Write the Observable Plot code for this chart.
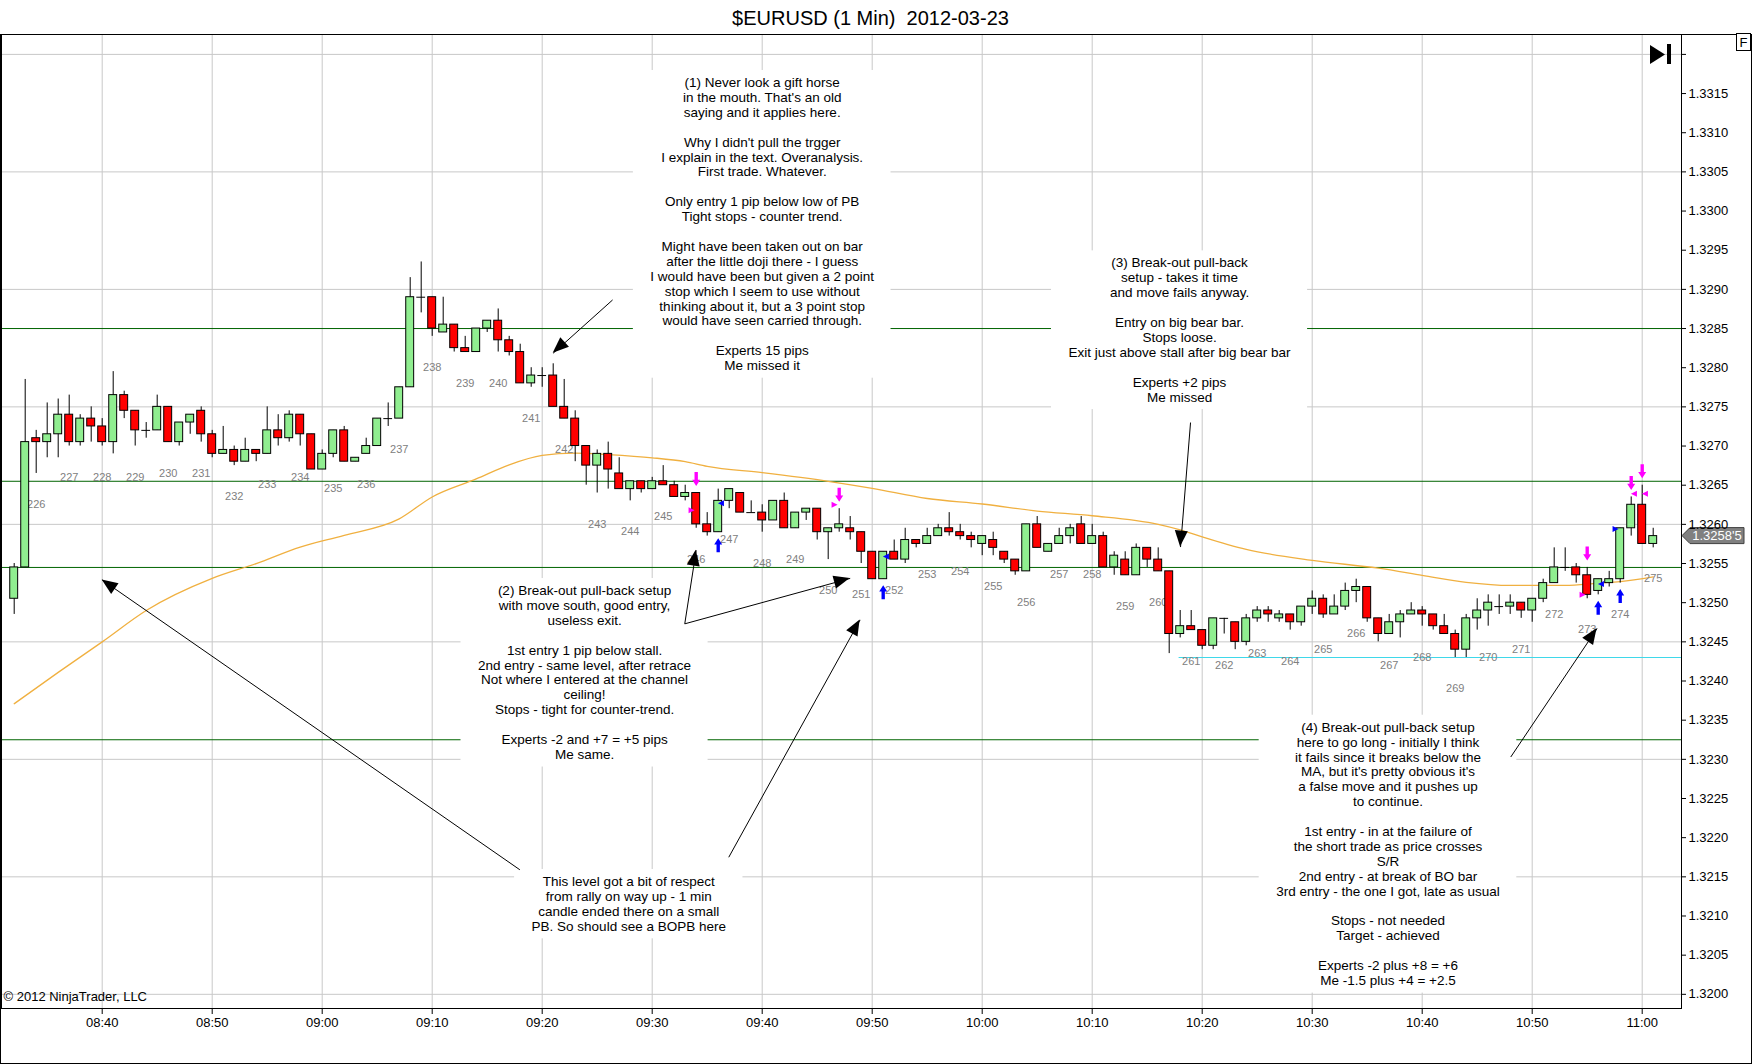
<!DOCTYPE html>
<html>
<head>
<meta charset="utf-8">
<script src="https://cdn.jsdelivr.net/npm/d3@7"></script>
<script src="https://cdn.jsdelivr.net/npm/@observablehq/plot@0.6"></script>
<style>
  html, body { margin: 0; padding: 0; background: #fff; }
  body { width: 1752px; height: 1064px; overflow: hidden; font-family: Arial, "Liberation Sans", sans-serif; }
  #wrap { position: relative; width: 1752px; height: 1064px; }
  #title { position: absolute; left: 0; top: 0; width: 1741px; height: 33px; line-height: 34px; padding-top: 1px; text-align: center; font-size: 20px; color: #000; white-space: pre; }
  #chart { position: absolute; left: 0; top: 33px; }
  #frame { position: absolute; left: 0; top: 34px; width: 1752px; height: 1030px; box-sizing: border-box; border: 1px solid #000; pointer-events: none; }
  #chrome { position: absolute; left: 0; top: 0; pointer-events: none; }
</style>
</head>
<body>
<div id="wrap">
  <div id="title">$EURUSD (1 Min)  2012-03-23</div>
  <div id="chart"></div>
  <div id="frame"></div>
  <svg id="chrome" width="1752" height="1064">
    <polygon points="1650,45 1665,54.5 1650,64" fill="#000"></polygon>
    <rect x="1667" y="44" width="4" height="20" fill="#000"></rect>
    <rect x="1736.5" y="33.5" width="14" height="17" fill="#fff" stroke="#000"></rect>
    <text x="1743.5" y="47" text-anchor="middle" font-size="13" font-family="Arial, 'Liberation Sans', sans-serif">F</text>
  </svg>
</div>
<script>
// ---------- bar data (1-minute bars, 08:32 .. 11:01) ----------
const open = [1.32505,1.32545,1.32710,1.32705,1.32715,1.32740,1.32705,1.32735,1.32725,1.32705,
1.32765,1.32745,1.32720,1.32720,1.32750,1.32705,1.32730,1.32745,1.32715,1.32690,
1.32695,1.32680,1.32695,1.32690,1.32720,1.32710,1.32740,1.32715,1.32670,1.32690,
1.32720,1.32680,1.32690,1.32700,1.32735,1.32735,1.32775,1.32890,1.32890,1.32845,
1.32855,1.32825,1.32820,1.32850,1.32860,1.32835,1.32820,1.32780,1.32790,1.32790,
1.32750,1.32735,1.32700,1.32675,1.32690,1.32665,1.32645,1.32655,1.32645,1.32655,
1.32650,1.32635,1.32640,1.32600,1.32590,1.32630,1.32640,1.32615,1.32615,1.32605,
1.32630,1.32595,1.32615,1.32620,1.32590,1.32595,1.32595,1.32590,1.32565,1.32530,
1.32565,1.32555,1.32580,1.32575,1.32585,1.32595,1.32590,1.32585,1.32575,1.32580,
1.32565,1.32555,1.32540,1.32600,1.32565,1.32575,1.32585,1.32600,1.32575,1.32585,
1.32545,1.32555,1.32535,1.32570,1.32555,1.32540,1.32460,1.32470,1.32465,1.32445,
1.32480,1.32475,1.32450,1.32480,1.32490,1.32480,1.32485,1.32475,1.32495,1.32505,
1.32485,1.32495,1.32515,1.32520,1.32480,1.32460,1.32475,1.32485,1.32490,1.32485,
1.32470,1.32460,1.32440,1.32480,1.32490,1.32495,1.32495,1.32500,1.32490,1.32505,
1.32525,1.32545,1.32545,1.32535,1.32515,1.32525,1.32530,1.32595,1.32625,1.32575];
const high = [1.32550,1.32785,1.32720,1.32755,1.32760,1.32765,1.32740,1.32750,1.32735,1.32795,
1.32770,1.32745,1.32730,1.32765,1.32750,1.32730,1.32740,1.32750,1.32720,1.32725,
1.32700,1.32710,1.32695,1.32750,1.32740,1.32745,1.32740,1.32715,1.32695,1.32720,
1.32725,1.32685,1.32710,1.32735,1.32755,1.32775,1.32915,1.32935,1.32890,1.32890,
1.32855,1.32840,1.32850,1.32860,1.32875,1.32840,1.32830,1.32800,1.32800,1.32805,
1.32785,1.32745,1.32700,1.32695,1.32705,1.32685,1.32655,1.32655,1.32660,1.32675,
1.32655,1.32650,1.32640,1.32615,1.32645,1.32645,1.32640,1.32630,1.32625,1.32630,
1.32640,1.32615,1.32620,1.32620,1.32595,1.32620,1.32610,1.32590,1.32565,1.32565,
1.32580,1.32595,1.32580,1.32595,1.32600,1.32615,1.32600,1.32590,1.32585,1.32590,
1.32565,1.32555,1.32600,1.32610,1.32575,1.32595,1.32600,1.32610,1.32600,1.32590,
1.32565,1.32565,1.32575,1.32570,1.32570,1.32540,1.32490,1.32490,1.32465,1.32480,
1.32480,1.32475,1.32485,1.32495,1.32495,1.32490,1.32485,1.32495,1.32515,1.32510,
1.32510,1.32525,1.32530,1.32520,1.32480,1.32485,1.32490,1.32500,1.32495,1.32485,
1.32485,1.32465,1.32485,1.32505,1.32510,1.32510,1.32510,1.32500,1.32505,1.32530,
1.32570,1.32570,1.32550,1.32545,1.32530,1.32540,1.32595,1.32635,1.32650,1.32595];
const low = [1.32485,1.32545,1.32665,1.32685,1.32685,1.32700,1.32700,1.32705,1.32700,1.32690,
1.32735,1.32700,1.32710,1.32720,1.32705,1.32700,1.32715,1.32705,1.32685,1.32690,
1.32675,1.32680,1.32680,1.32690,1.32700,1.32705,1.32700,1.32670,1.32670,1.32685,
1.32680,1.32680,1.32690,1.32700,1.32725,1.32735,1.32775,1.32870,1.32840,1.32845,
1.32820,1.32820,1.32820,1.32845,1.32820,1.32815,1.32780,1.32775,1.32775,1.32750,
1.32735,1.32680,1.32650,1.32640,1.32645,1.32645,1.32630,1.32640,1.32645,1.32650,
1.32635,1.32630,1.32595,1.32585,1.32590,1.32620,1.32615,1.32615,1.32590,1.32605,
1.32595,1.32595,1.32605,1.32580,1.32555,1.32590,1.32580,1.32550,1.32530,1.32530,
1.32555,1.32550,1.32570,1.32575,1.32585,1.32585,1.32580,1.32570,1.32560,1.32560,
1.32550,1.32535,1.32540,1.32570,1.32565,1.32575,1.32575,1.32575,1.32575,1.32545,
1.32535,1.32535,1.32535,1.32545,1.32540,1.32435,1.32455,1.32465,1.32440,1.32440,
1.32460,1.32440,1.32445,1.32475,1.32475,1.32475,1.32465,1.32470,1.32485,1.32480,
1.32485,1.32490,1.32500,1.32475,1.32450,1.32460,1.32455,1.32485,1.32470,1.32465,
1.32460,1.32430,1.32430,1.32465,1.32470,1.32485,1.32485,1.32480,1.32475,1.32500,
1.32525,1.32540,1.32525,1.32505,1.32510,1.32520,1.32525,1.32585,1.32575,1.32570];
const close = [1.32545,1.32705,1.32705,1.32715,1.32740,1.32705,1.32735,1.32725,1.32705,1.32765,
1.32745,1.32720,1.32720,1.32750,1.32705,1.32730,1.32740,1.32715,1.32690,1.32695,
1.32680,1.32695,1.32690,1.32720,1.32710,1.32740,1.32715,1.32670,1.32690,1.32720,
1.32680,1.32685,1.32700,1.32735,1.32735,1.32775,1.32890,1.32890,1.32850,1.32855,
1.32825,1.32820,1.32850,1.32860,1.32835,1.32820,1.32780,1.32790,1.32790,1.32750,
1.32735,1.32700,1.32675,1.32690,1.32670,1.32645,1.32655,1.32645,1.32655,1.32650,
1.32635,1.32640,1.32600,1.32590,1.32630,1.32645,1.32615,1.32615,1.32605,1.32630,
1.32595,1.32615,1.32620,1.32590,1.32595,1.32600,1.32590,1.32565,1.32530,1.32565,
1.32555,1.32580,1.32575,1.32585,1.32595,1.32590,1.32585,1.32580,1.32585,1.32570,
1.32555,1.32540,1.32600,1.32570,1.32575,1.32585,1.32595,1.32575,1.32585,1.32545,
1.32560,1.32535,1.32570,1.32555,1.32540,1.32460,1.32470,1.32465,1.32445,1.32480,
1.32480,1.32450,1.32480,1.32490,1.32485,1.32485,1.32475,1.32495,1.32505,1.32485,
1.32495,1.32515,1.32520,1.32480,1.32460,1.32475,1.32485,1.32490,1.32485,1.32470,
1.32460,1.32440,1.32480,1.32490,1.32500,1.32495,1.32500,1.32490,1.32505,1.32525,
1.32545,1.32545,1.32535,1.32510,1.32530,1.32530,1.32595,1.32625,1.32575,1.32585];

// ---------- axes ----------
const tickBars = [8,18,28,38,48,58,68,78,88,98,108,118,128,138,148];
const tickLabels = ["08:40","08:50","09:00","09:10","09:20","09:30","09:40","09:50","10:00","10:10","10:20","10:30","10:40","10:50","11:00"];
const priceTicks = [1.3200,1.3205,1.3210,1.3215,1.3220,1.3225,1.3230,1.3235,1.3240,1.3245,1.3250,1.3255,1.3260,1.3265,1.3270,1.3275,1.3280,1.3285,1.3290,1.3295,1.3300,1.3305,1.3310,1.3315,1.3320];
const gridPrices = [1.3200,1.3215,1.3230,1.3245,1.3260,1.3275,1.3290,1.3305,1.3320];

// ---------- levels ----------
const greenLevels = [1.32850,1.32655,1.32545,1.32325];
const cyanLevel = 1.32430;
const cyanStartBar = 105.9;

// ---------- moving average ----------
const maBars = [0,4,8,12,18,22,26,30,35,38,42,45,48,51,54,58,61,63,68,74,78,83,88,93,98,104,106,108,112,118,124,128,132,136,141,144,146,149];
const maValues = [1.32371,1.32411,1.32450,1.32490,1.32531,1.32550,1.32571,1.32586,1.32607,1.32635,1.32658,1.32676,1.32688,1.32691,1.32689,1.32685,1.32680,1.32674,1.32666,1.32655,1.32646,1.32633,1.32626,1.32617,1.32611,1.32600,1.32593,1.32584,1.32568,1.32554,1.32544,1.32535,1.32526,1.32522,1.32522,1.32525,1.32527,1.32533];

// ---------- bar count labels ----------
const countBars = [2,5,8,11,14,17,20,23,26,29,32,35,38,41,44,47,50,53,56,59,62,65,68,71,74,77,80,83,86,89,92,95,98,101,104,107,110,113,116,119,122,125,128,131,134,137,140,143,146,149];
const countLabels = [226,227,228,229,230,231,232,233,234,235,236,237,238,239,240,241,242,243,244,245,246,247,248,249,250,251,252,253,254,255,256,257,258,259,260,261,262,263,264,265,266,267,268,269,270,271,272,273,274,275];

// ---------- trade signals ----------
const sellBars = [62,75,143,147,148];
const buyBars = [64,79,144,146];
const fillBars = [62,64,75,79,143,144,146,147,148];
const fillPrices = [1.32618,1.32627,1.32625,1.32559,1.32510,1.32524,1.32594,1.32639,1.32639];
const fillSide = ["sell","buy","sell","buy","sell","buy","buy","sell","sell"];
const fillDir = ["right","left","right","left","right","left","right","left","left"];

// ---------- annotation arrows (bar index, price) ----------
const arrows = [
  {x1:54.4,  y1:1.328865, x2:49.0,   y2:1.328185},
  {x1:60.96, y1:1.324730, x2:62.0,   y2:1.325670},
  {x1:60.96, y1:1.324730, x2:76.0,   y2:1.325310},
  {x1:64.96, y1:1.321750, x2:76.9,   y2:1.324780},
  {x1:45.97, y1:1.321590, x2:8.0,    y2:1.325290},
  {x1:106.94,y1:1.327300, x2:106.03, y2:1.325710},
  {x1:136.05,y1:1.323030, x2:143.9,  y2:1.324670}
];

// ---------- annotation texts ----------
const notes = [
  {bar:68.0, price:1.331654, text:"(1) Never look a gift horse\nin the mouth. That's an old\nsaying and it applies here.\n\nWhy I didn't pull the trgger\nI explain in the text. Overanalysis.\nFirst trade. Whatever.\n\nOnly entry 1 pip below low of PB\nTight stops - counter trend.\n\nMight have been taken out on bar\nafter the little doji there - I guess\nI would have been but given a 2 point\nstop which I seem to use without\nthinking about it, but a 3 point stop\nwould have seen carried through.\n\nExperts 15 pips\nMe missed it"},
  {bar:105.94, price:1.329351, text:"(3) Break-out pull-back\nsetup - takes it time\nand move fails anyway.\n\nEntry on big bear bar.\nStops loose.\nExit just above stall after big bear bar\n\nExperts +2 pips\nMe missed"},
  {bar:51.85, price:1.325168, text:"(2) Break-out pull-back setup\nwith move south, good entry,\nuseless exit.\n\n1st entry 1 pip below stall.\n2nd entry - same level, after retrace\nNot where I entered at the channel\nceiling!\nStops - tight for counter-trend.\n\nExperts -2 and +7 = +5 pips\nMe same."},
  {bar:55.87, price:1.321453, text:"This level got a bit of respect\nfrom rally on way up - 1 min\ncandle ended there on a small\nPB. So should see a BOPB here"},
  {bar:124.89, price:1.323423, text:"(4) Break-out pull-back setup\nhere to go long - initially I think\nit fails since it breaks below the\nMA, but it's pretty obvious it's\na false move and it pushes up\nto continue.\n\n1st entry - in at the failure of\nthe short trade as price crosses\nS/R\n2nd entry - at break of BO bar\n3rd entry - the one I got, late as usual\n\nStops - not needed\nTarget - achieved\n\nExperts -2 plus +8 = +6\nMe -1.5 plus +4 = +2.5"}
];

// ---------- build tables ----------
const bars = open.map((o, i) => ({i, open: o, high: high[i], low: low[i], close: close[i]}));
const bodies = bars.filter(d => Math.abs(d.close - d.open) > 1e-7);
const dojis = bars.filter(d => Math.abs(d.close - d.open) <= 1e-7);
const ma = maBars.map((b, k) => ({bar: b, value: maValues[k]}));
const counts = countBars.map((b, k) => ({bar: b, low: low[b], label: String(countLabels[k])}));
const sells = sellBars.map(b => bars[b]);
const buys = buyBars.map(b => bars[b]);
const fills = fillBars.map((b, k) => ({bar: b, price: fillPrices[k], color: fillSide[k] === "sell" ? "#ff00ff" : "#0000ff", dir: fillDir[k]}));

const FONT = 'Arial, "Liberation Sans", sans-serif';
const NOTE_SIZE = 13.5, LH = 14.9;
const mctx = document.createElement("canvas").getContext("2d");
mctx.font = NOTE_SIZE + "px " + FONT;

// white backgrounds behind the note texts
const noteBoxes = (index, scales) => {
  const g = d3.create("svg:g");
  for (const n of notes) {
    const lines = n.text.split("\n");
    const w = d3.max(lines, l => mctx.measureText(l).width);
    const cx = scales.x(n.bar), cy = scales.y(n.price);
    g.append("rect")
      .attr("x", cx - w / 2 - 17).attr("y", cy - 11)
      .attr("width", w + 34).attr("height", (lines.length - 1) * LH + 24.6)
      .attr("fill", "#fff");
  }
  return g.node();
};

// filled arrow heads at the tip of each annotation arrow
const arrowHeads = (index, scales) => {
  const g = d3.create("svg:g");
  for (const a of arrows) {
    const x1 = scales.x(a.x1), y1 = scales.y(a.y1), x2 = scales.x(a.x2), y2 = scales.y(a.y2);
    const ang = Math.atan2(y2 - y1, x2 - x1);
    const L = 16, W = 6.5;
    const bx = x2 - L * Math.cos(ang), by = y2 - L * Math.sin(ang);
    g.append("path")
      .attr("d", `M${x2},${y2}L${bx - W * Math.sin(ang)},${by + W * Math.cos(ang)}L${bx + W * Math.sin(ang)},${by - W * Math.cos(ang)}Z`)
      .attr("fill", "#000");
  }
  return g.node();
};

// last-price tag on the price axis
const priceTag = (index, scales, values, dimensions) => {
  const last = close[close.length - 1];
  const y = scales.y(last);
  const x0 = dimensions.width - dimensions.marginRight;
  const s = last.toFixed(5);
  const label = s.slice(0, 6) + "'" + s.slice(6);
  const g = d3.create("svg:g");
  g.append("path")
    .attr("d", `M${x0 + 1},${y}L${x0 + 9},${y - 8}L${x0 + 63},${y - 8}L${x0 + 63},${y + 8}L${x0 + 9},${y + 8}Z`)
    .attr("fill", "#808080").attr("stroke", "#404040");
  g.append("text").attr("x", x0 + 36).attr("y", y).attr("dy", "0.35em")
    .attr("text-anchor", "middle").attr("font-size", 13).attr("fill", "#fff").text(label);
  return g.node();
};

const thickArrow = {
  draw(ctx, l, r) {
    const sw = r * 0.42, hl = l * 0.45;
    ctx.moveTo(-sw, 0);
    ctx.lineTo(-sw, -l + hl);
    ctx.lineTo(-r, -l + hl);
    ctx.lineTo(0, -l);
    ctx.lineTo(r, -l + hl);
    ctx.lineTo(sw, -l + hl);
    ctx.lineTo(sw, 0);
    ctx.closePath();
  }
};
const triangle = {
  draw(ctx, l, r) {
    ctx.moveTo(0, -l);
    ctx.lineTo(-r, 0);
    ctx.lineTo(r, 0);
    ctx.closePath();
  }
};

const X0 = -1.1545, X1 = 151.5727;

const chart = Plot.plot({
  width: 1752,
  height: 1031,
  marginTop: 1,
  marginRight: 71,
  marginBottom: 56,
  marginLeft: 1,
  x: {type: "linear", domain: [X0, X1]},
  y: {type: "linear", domain: [1.319819, 1.332254]},
  style: {fontFamily: FONT, fontSize: "13px", color: "#000", background: "transparent", overflow: "visible", maxWidth: "none"},
  marks: [
    Plot.gridY(gridPrices, {stroke: "#c8c8c8", strokeOpacity: 1}),
    Plot.gridX(tickBars, {stroke: "#c8c8c8", strokeOpacity: 1}),
    Plot.ruleY(greenLevels, {stroke: "#006400", strokeWidth: 1}),
    Plot.ruleY([cyanLevel], {x1: cyanStartBar, x2: X1, stroke: "#3fd8ea", strokeWidth: 1.2}),
    noteBoxes,
    Plot.text(notes, {x: "bar", y: "price", text: "text", lineAnchor: "top", dy: -5, fontSize: NOTE_SIZE, lineHeight: LH / NOTE_SIZE, fill: "#000", textAnchor: "middle"}),
    Plot.line(ma, {x: "bar", y: "value", stroke: "#f0b040", strokeWidth: 1.3, curve: "monotone-x"}),
    Plot.text(counts, {x: "bar", y: "low", text: "label", dy: 31, fontSize: 11, fill: "#808080"}),
    Plot.ruleX(bars, {x: "i", y1: "low", y2: "high", stroke: "#000", strokeWidth: 1}),
    Plot.rect(bodies, {x1: d => d.i - 0.36, x2: d => d.i + 0.36, y1: "open", y2: "close", fill: d => d.close > d.open ? "#90ee90" : "#ff0000", stroke: "#000", strokeWidth: 1}),
    Plot.ruleY(dojis, {y: "open", x1: d => d.i - 0.4, x2: d => d.i + 0.4, stroke: "#000", strokeWidth: 1}),
    Plot.vector(sells, {x: "i", y: "high", length: 14, rotate: 180, anchor: "end", shape: thickArrow, r: 4, fill: "#ff00ff", stroke: "none", dy: -7}),
    Plot.vector(buys, {x: "i", y: "low", length: 14, rotate: 0, anchor: "end", shape: thickArrow, r: 4, fill: "#0000ff", stroke: "none", dy: 6}),
    Plot.vector(fills, {x: d => d.bar + (d.dir === "right" ? -0.42 : 0.25), y: "price", length: 6, rotate: d => d.dir === "right" ? 90 : -90, anchor: "middle", shape: triangle, r: 3, fill: "color", stroke: "none"}),
    Plot.link(arrows, {x1: "x1", y1: "y1", x2: "x2", y2: "y2", stroke: "#000", strokeWidth: 1}),
    arrowHeads,
    priceTag,
    Plot.text(["© 2012 NinjaTrader, LLC"], {text: d => d, frameAnchor: "bottom-left", textAnchor: "start", dx: 2, dy: -8, fontSize: 13, fill: "#000"}),
    Plot.axisX(tickBars, {tickFormat: d => tickLabels[tickBars.indexOf(d)], tickSize: 6, tickPadding: 3, fontSize: 13, label: null}),
    Plot.axisY(priceTicks, {anchor: "right", tickFormat: d => d > 1.3318 ? "" : d.toFixed(4), tickSize: 4, tickPadding: 3, fontSize: 13, label: null}),
    Plot.frame({stroke: "#000"})
  ]
});
document.getElementById("chart").appendChild(chart);
</script>
</body>
</html>
